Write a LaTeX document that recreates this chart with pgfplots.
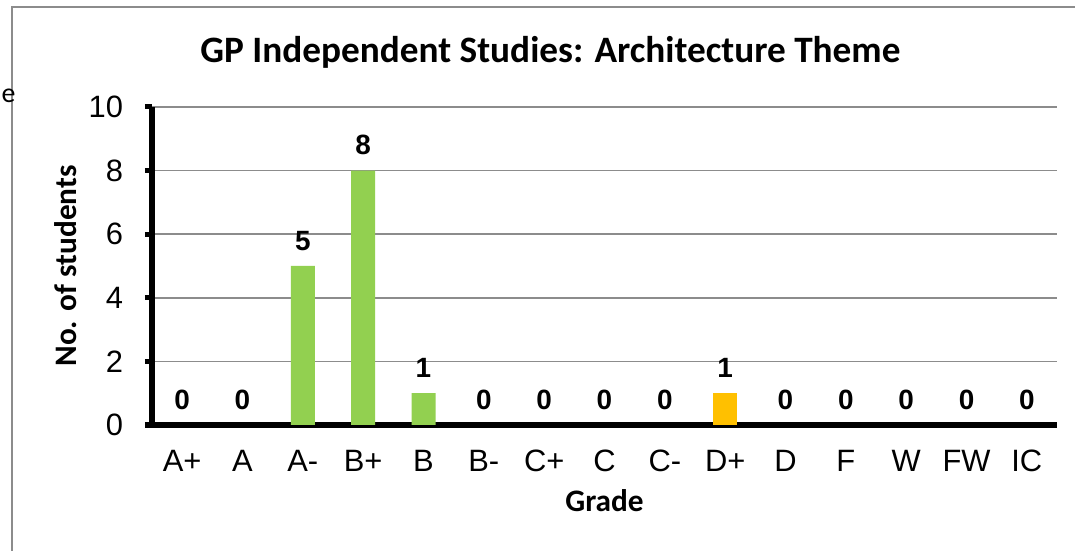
\documentclass[border=0pt]{standalone}
\usepackage{pgfplots}
\pgfplotsset{compat=1.18}
\usepackage{fontspec}
\setmainfont{Carlito}
\newfontfamily\arial{Liberation Sans}
\definecolor{bargreen}{HTML}{92D050}
\definecolor{barorange}{HTML}{FFC000}
\definecolor{framegray}{HTML}{8C8C8C}
\definecolor{gridgray}{HTML}{8C8C8C}
\begin{document}
\begin{tikzpicture}
\useasboundingbox (0,0) rectangle (537.5bp,275.5bp);
\draw[framegray, line width=1.2bp] (6bp,-10bp) -- (6bp,272bp) -- (560bp,272bp);
\node[anchor=east, inner sep=0pt, font=\fontsize{14}{16}\selectfont] at (8bp,229bp) {he};
\begin{axis}[
  at={(76bp,63bp)}, anchor=south west,
  scale only axis, width=452.5bp, height=159bp,
  xmin=-0.5, xmax=14.5, ymin=0, ymax=10,
  axis lines=left,
  axis line style={-, line width=2.5bp, black},
  ytick={0,2,...,10},
  xtick={0,...,14},
  xticklabels={A+,A,A-,B+,B,B-,C+,C,C-,D+,D,F,W,FW,IC},
  xtick style={draw=none},
  minor xtick={-0.5,0.5,...,14.5},
  minor x tick style={line width=2.5bp, black},
  ytick style={line width=2.5bp, black},
  tick align=outside,
  major tick length=3.5bp,
  minor tick length=4bp,
  ymajorgrids,
  major grid style={gridgray, line width=0.8bp},
  /pgf/number format/assume math mode=true,
  ticklabel style={font=\arial\fontsize{15.5}{17}\selectfont},
  xticklabel style={yshift=-5.5bp},
  yticklabel style={xshift=-7.5bp},
  ylabel={\bfseries No. of students},
  xlabel={\bfseries Grade},
  label style={font=\fontsize{15.7}{18}\selectfont},
  ylabel style={yshift=-1bp},
  xlabel style={yshift=-2bp},
  title={\bfseries GP Independent Studies: Architecture Theme},
  title style={font=\fontsize{18.7}{21}\selectfont, xshift=-27bp, yshift=10bp},
  ybar, bar width=12bp, bar shift=0pt,
  nodes near coords,
  every node near coord/.append style={font=\arial\bfseries\fontsize{14}{16}\selectfont, yshift=4.3bp, black},
]
\addplot[fill=bargreen, draw=none] coordinates {(0,0) (1,0) (2,5) (3,8) (4,1) (5,0) (6,0) (7,0) (8,0) (10,0) (11,0) (12,0) (13,0) (14,0)};
\addplot[fill=barorange, draw=none] coordinates {(9,1)};
\end{axis}
\end{tikzpicture}
\end{document}
